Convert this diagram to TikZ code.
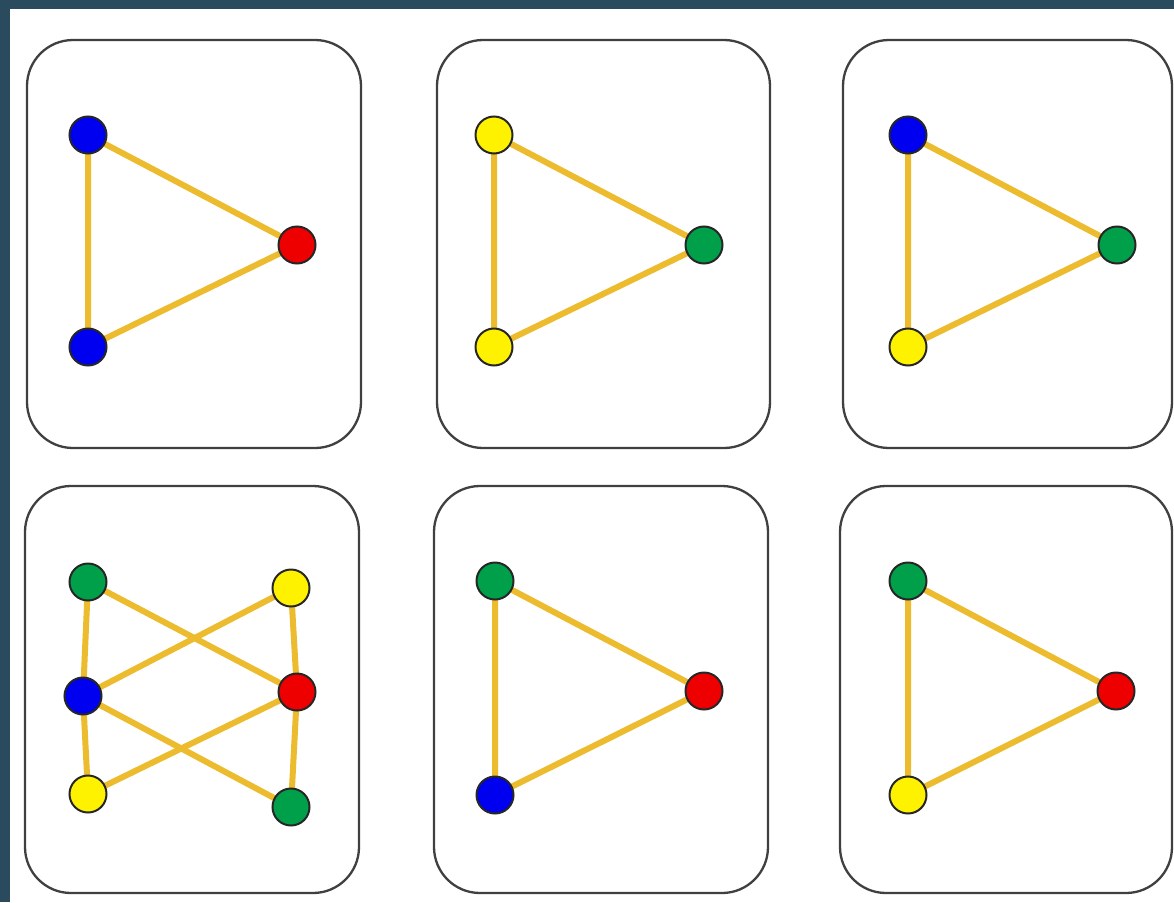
\documentclass[tikz,border=0pt]{standalone}
\usetikzlibrary{backgrounds}
\definecolor{frame}{HTML}{2A4A5E}
\definecolor{edgecol}{HTML}{EDBB2E}
\definecolor{nblue}{HTML}{0000F0}
\definecolor{nred}{HTML}{EE0000}
\definecolor{ngreen}{HTML}{00A04A}
\definecolor{nyellow}{HTML}{FFF200}
\tikzset{
  panel/.style={draw=black!75, line width=2.3pt, rounded corners=46pt, fill=white},
  vtx/.style={circle, draw=black!85, line width=2pt, minimum size=37pt, inner sep=0pt},
  bv/.style={vtx, fill=nblue},
  rv/.style={vtx, fill=nred},
  gv/.style={vtx, fill=ngreen},
  yv/.style={vtx, fill=nyellow},
  link/.style={draw=edgecol, line width=6pt},
}
\begin{document}
\begin{tikzpicture}[x=1pt,y=-1pt]
\useasboundingbox (0,0) rectangle (1174,902);
% panel 1
\node[bv] (a1) at (88,135) {};
\node[rv] (a2) at (297,245) {};
\node[bv] (a3) at (88,347) {};
% panel 2
\node[yv] (b1) at (494,135) {};
\node[gv] (b2) at (704,245) {};
\node[yv] (b3) at (494,347) {};
% panel 3
\node[bv] (c1) at (908,135) {};
\node[gv] (c2) at (1117,245) {};
\node[yv] (c3) at (908,347) {};
% panel 4
\node[gv] (d1) at (88,582) {};
\node[yv] (d2) at (291,588) {};
\node[bv] (d3) at (83,696) {};
\node[rv] (d4) at (297,692) {};
\node[yv] (d5) at (88,794) {};
\node[gv] (d6) at (291,807) {};
% panel 5
\node[gv] (e1) at (495,581) {};
\node[rv] (e2) at (704,691) {};
\node[bv] (e3) at (495,795) {};
% panel 6
\node[gv] (f1) at (908,581) {};
\node[rv] (f2) at (1116,691) {};
\node[yv] (f3) at (908,795) {};
\begin{scope}[on background layer]
\fill[frame] (0,0) rectangle (1174,902);
\fill[white] (10,9) rectangle (1174,902);
\draw[panel] (27,40) rectangle (361,448);
\draw[panel] (437,40) rectangle (770,448);
\draw[panel] (843,40) rectangle (1172,448);
\draw[panel] (25,486) rectangle (359,893);
\draw[panel] (434,486) rectangle (768,893);
\draw[panel] (840,486) rectangle (1172,893);
\end{scope}
\begin{scope}[on background layer]
\draw[link] (a1.center) -- (a2.center) -- (a3.center) -- (a1.center);
\draw[link] (b1.center) -- (b2.center) -- (b3.center) -- (b1.center);
\draw[link] (c1.center) -- (c2.center) -- (c3.center) -- (c1.center);
\draw[link] (e1.center) -- (e2.center) -- (e3.center) -- (e1.center);
\draw[link] (f1.center) -- (f2.center) -- (f3.center) -- (f1.center);
\draw[link] (d1.center) -- (d3.center) -- (d5.center);
\draw[link] (d2.center) -- (d4.center) -- (d6.center);
\draw[link] (d1.center) -- (d4.center);
\draw[link] (d2.center) -- (d3.center);
\draw[link] (d3.center) -- (d6.center);
\draw[link] (d5.center) -- (d4.center);
\end{scope}
\end{tikzpicture}
\end{document}
